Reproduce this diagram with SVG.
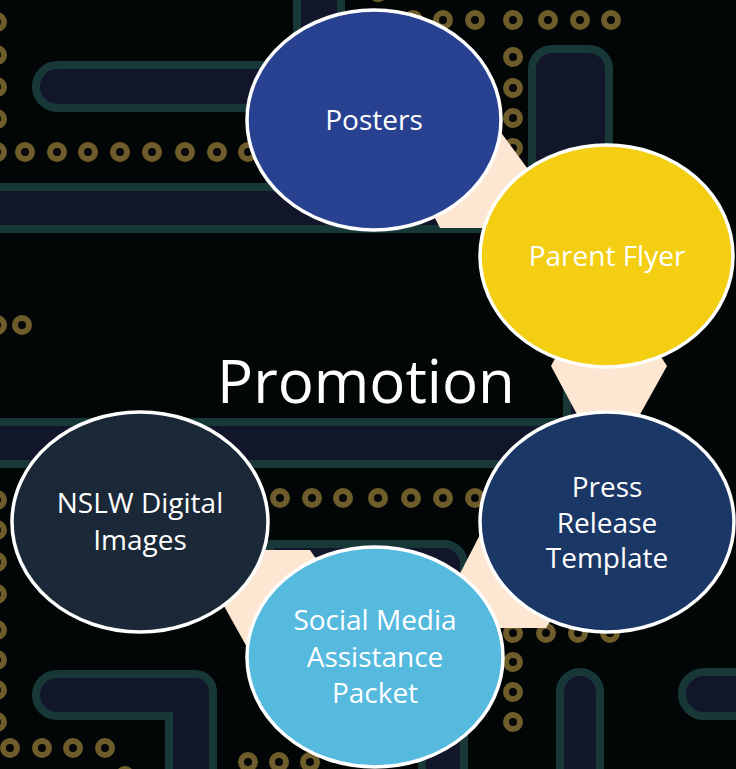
<svg xmlns="http://www.w3.org/2000/svg" width="736" height="769" viewBox="0 0 736 769">
<defs>
<style>
.trace{fill:#12162b;stroke:#183838;stroke-width:8}
.via{fill:#050607;stroke:#6e5d2b;stroke-width:6}
.conn{fill:#fde6d2}
.node{stroke:#ffffff;stroke-width:3.5}
.lbl{font-family:"Open Sans","Noto Sans",sans-serif;font-size:28px;fill:#ffffff;text-anchor:middle}
.title{font-family:"Open Sans","Noto Sans",sans-serif;font-size:60px;fill:#ffffff;text-anchor:middle}
</style>
</defs>
<rect x="0" y="0" width="736" height="769" fill="#030607"/>
<g id="background">
<path class="trace" d="M341,-20 V108 H57.5 A21.5,21.5 0 0 1 57.5,65 H297 V-20 Z"/>
<rect class="trace" x="-20" y="187" width="520" height="42"/>
<rect class="trace" x="532" y="49" width="77" height="200" rx="20"/>
<path class="trace" d="M-20,422 H567 V300 H609 V464 H-20 Z"/>
<path class="trace" d="M57,674 H195 A18,18 0 0 1 213,692 V800 H169 V716 H57 A21,21 0 0 1 57,674 Z"/>
<path class="trace" d="M270,544 H444 A20,20 0 0 1 464,564 V800 H422 V600 H270 Z"/>
<rect class="trace" x="560" y="672" width="40" height="150" rx="20"/>
<rect class="trace" x="682" y="672" width="100" height="44" rx="22"/>
<g id="vias">
<circle class="via" cx="-3" cy="22" r="7"/><circle class="via" cx="-3" cy="55" r="7"/><circle class="via" cx="-3" cy="87" r="7"/><circle class="via" cx="-3" cy="119" r="7"/><circle class="via" cx="-3" cy="152" r="7"/>
<circle class="via" cx="25" cy="152" r="7"/><circle class="via" cx="57" cy="152" r="7"/><circle class="via" cx="88" cy="152" r="7"/><circle class="via" cx="120" cy="152" r="7"/><circle class="via" cx="152" cy="152" r="7"/><circle class="via" cx="185" cy="152" r="7"/><circle class="via" cx="217" cy="152" r="7"/><circle class="via" cx="248" cy="152" r="7"/>
<circle class="via" cx="378" cy="-8" r="7"/><circle class="via" cx="413" cy="20" r="7"/><circle class="via" cx="443" cy="20" r="7"/><circle class="via" cx="475" cy="20" r="7"/><circle class="via" cx="513" cy="20" r="7"/><circle class="via" cx="548" cy="20" r="7"/><circle class="via" cx="580" cy="20" r="7"/><circle class="via" cx="611" cy="20" r="7"/>
<circle class="via" cx="513" cy="-10" r="7"/><circle class="via" cx="513" cy="57" r="7"/><circle class="via" cx="513" cy="88" r="7"/><circle class="via" cx="513" cy="118" r="7"/><circle class="via" cx="513" cy="148" r="7"/>
<circle class="via" cx="-3" cy="325" r="7"/><circle class="via" cx="22" cy="325" r="7"/>
<circle class="via" cx="280" cy="498" r="7"/><circle class="via" cx="312" cy="498" r="7"/><circle class="via" cx="343" cy="498" r="7"/><circle class="via" cx="378" cy="498" r="7"/><circle class="via" cx="411" cy="498" r="7"/><circle class="via" cx="443" cy="498" r="7"/><circle class="via" cx="475" cy="498" r="7"/>
<circle class="via" cx="-3" cy="500" r="7"/><circle class="via" cx="-3" cy="530" r="7"/><circle class="via" cx="-3" cy="562" r="7"/><circle class="via" cx="-3" cy="594" r="7"/><circle class="via" cx="-3" cy="630" r="7"/><circle class="via" cx="-3" cy="660" r="7"/><circle class="via" cx="-3" cy="690" r="7"/><circle class="via" cx="-3" cy="722" r="7"/>
<circle class="via" cx="10" cy="748" r="7"/><circle class="via" cx="42" cy="748" r="7"/><circle class="via" cx="73" cy="748" r="7"/><circle class="via" cx="105" cy="748" r="7"/><circle class="via" cx="125" cy="776" r="7"/>
<circle class="via" cx="248" cy="762" r="7"/><circle class="via" cx="279" cy="762" r="7"/><circle class="via" cx="310" cy="762" r="7"/>
<circle class="via" cx="513" cy="633" r="7"/><circle class="via" cx="546" cy="633" r="7"/><circle class="via" cx="578" cy="633" r="7"/><circle class="via" cx="610" cy="633" r="7"/>
<circle class="via" cx="513" cy="662" r="7"/><circle class="via" cx="513" cy="692" r="7"/><circle class="via" cx="513" cy="722" r="7"/>
</g>
</g>
<g id="connectors">
<polygon class="conn" points="494,123 533,176 490,228 440,228 436,220 430,208"/>
<polygon class="conn" points="565,340 551,366 608,472 667,366 650,340"/>
<polygon class="conn" points="487,521 451,591 495,628 546,628 556,612"/>
<polygon class="conn" points="255,550 310,550 332,582 253,658 214,588"/>
</g>
<g id="node-posters">
<ellipse class="node" cx="374" cy="120" rx="127" ry="110" fill="#284291"/>
<text class="lbl" x="374" y="130">Posters</text>
</g>
<g id="node-parent-flyer">
<ellipse class="node" cx="606.5" cy="256" rx="126.5" ry="111" fill="#f3ce13"/>
<text class="lbl" x="607" y="266">Parent Flyer</text>
</g>
<g id="node-press-release">
<ellipse class="node" cx="607" cy="522" rx="127" ry="110" fill="#1b3766"/>
<text class="lbl" x="607" y="497">Press</text>
<text class="lbl" x="607" y="532.5">Release</text>
<text class="lbl" x="607" y="568">Template</text>
</g>
<g id="node-social-media">
<ellipse class="node" cx="375" cy="657" rx="128" ry="110" fill="#56badf"/>
<text class="lbl" x="375" y="630">Social Media</text>
<text class="lbl" x="375" y="666.5">Assistance</text>
<text class="lbl" x="375" y="703">Packet</text>
</g>
<g id="node-nslw">
<ellipse class="node" cx="140" cy="522" rx="128" ry="110" fill="#1b2837"/>
<text class="lbl" x="140" y="513">NSLW Digital</text>
<text class="lbl" x="140" y="549.5">Images</text>
</g>
<text id="title" class="title" x="366" y="403">Promotion</text>
</svg>
